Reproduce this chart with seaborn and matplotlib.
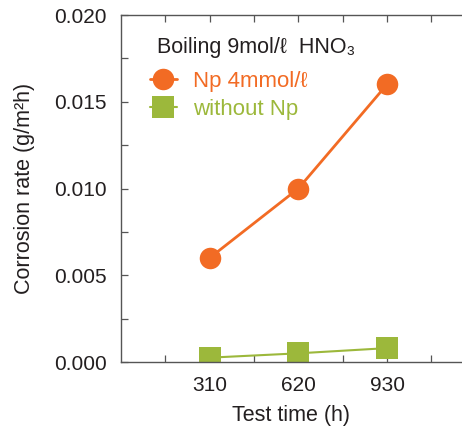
import numpy as np
import pandas as pd
import seaborn as sns
import matplotlib.pyplot as plt
from matplotlib.ticker import MultipleLocator, FixedLocator

# test times (h) and corrosion rates (g/m2h)
test_time = [310, 620, 930]
rate_np = [0.0060, 0.0100, 0.0160]
rate_without = [0.00025, 0.00050, 0.00080]
series_labels = ['Np 4mmol/\u2113', 'without Np']
title_text = 'Boiling 9mol/\u2113  HNO\u2083'

orange = '#F26B24'
green = '#9CB83B'
ink = '#231F20'

sns.set_style('ticks')
plt.rcParams['font.family'] = ['Liberation Sans', 'DejaVu Sans']

df = pd.DataFrame({
    'time': test_time * 2,
    'rate': rate_np + rate_without,
    'series': [series_labels[0]] * 3 + [series_labels[1]] * 3,
})

fig = plt.figure(figsize=(4.62, 4.28), dpi=100)
ax = fig.add_axes([121 / 462, 66 / 428, 341 / 462, 347 / 428])

sns.lineplot(data=df[df.series == series_labels[0]], x='time', y='rate',
             color=orange, marker='o', markersize=15.5, markeredgewidth=0,
             linewidth=2, ax=ax, label=series_labels[0])
sns.lineplot(data=df[df.series == series_labels[1]], x='time', y='rate',
             color=green, marker='s', markersize=16, markeredgewidth=0,
             linewidth=1.5, ax=ax, label=series_labels[1])

ax.set_xlim(0, 1192)
ax.set_ylim(0, 0.020)
ax.xaxis.set_major_locator(FixedLocator(test_time))
ax.xaxis.set_minor_locator(FixedLocator([155, 465, 775, 1085]))
ax.yaxis.set_major_locator(MultipleLocator(0.005))
ax.yaxis.set_minor_locator(MultipleLocator(0.0025))
ax.set_yticklabels([f'{v:.3f}' for v in ax.get_yticks()])

for side in ['left', 'top', 'bottom']:
    ax.spines[side].set_color('#555555')
    ax.spines[side].set_linewidth(1)
ax.spines['right'].set_visible(False)

ax.tick_params(which='both', direction='in', top=True, right=False,
               color='#555555', width=0.9)
ax.tick_params(which='major', length=5, labelsize=15, labelcolor=ink, pad=10)
ax.tick_params(which='minor', length=5)

ax.set_xlabel('Test time (h)', fontsize=15.5, color=ink, labelpad=7)
ax.set_ylabel('Corrosion rate (g/m\u00b2h)', fontsize=15.5, color=ink, labelpad=14)

fig.text(157 / 462, 1 - 47 / 428, title_text, fontsize=15.5, color=ink,
         ha='left', va='center')

leg = ax.legend(loc='upper left', bbox_to_anchor=(150 / 462, 1 - 71 / 428),
                bbox_transform=fig.transFigure, frameon=False, fontsize=16,
                handlelength=1.2, handletextpad=0.72, labelspacing=0.3,
                borderpad=0, borderaxespad=0, labelcolor=[orange, green])

fig.savefig('out.png', dpi=100)
